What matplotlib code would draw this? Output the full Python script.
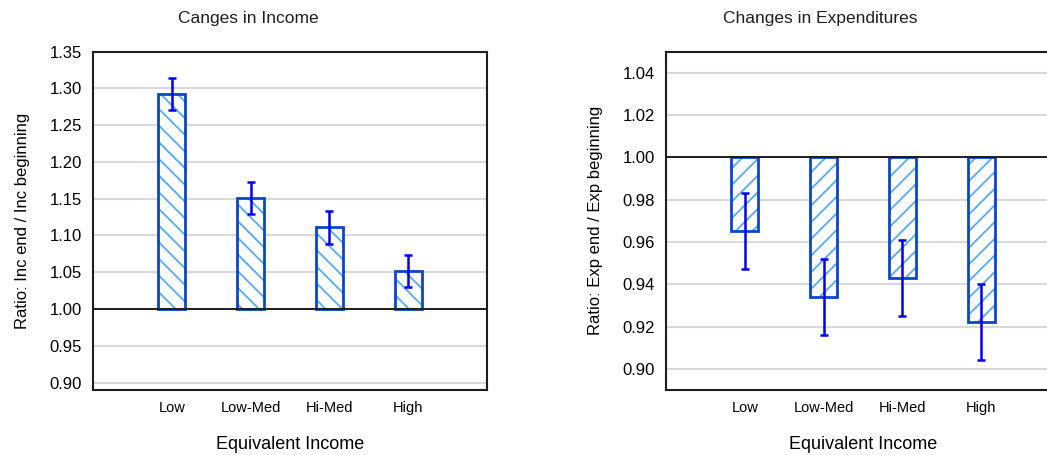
import matplotlib
matplotlib.use("Agg")
import matplotlib.pyplot as plt
import numpy as np

plt.rcParams["font.family"] = ["Liberation Sans", "DejaVu Sans"]
plt.rcParams["hatch.linewidth"] = 1.3

categories = ["Low", "Low-Med", "Hi-Med", "High"]

inc_ratio = [1.292, 1.151, 1.111, 1.052]
inc_err = [0.022, 0.022, 0.022, 0.022]

exp_ratio = [0.965, 0.934, 0.943, 0.922]
exp_err = [0.018, 0.018, 0.018, 0.018]

EDGE = "#0a46c8"
HATCH = "#55aaff"
ERR = "#0000ee"
GRID = "#d9d9d9"
INK = "#1e1e1e"


def draw_panel(ax, values, errs, hatch, ylim, yticks, ylabel):
    x = np.arange(len(categories))
    heights = [v - 1.0 for v in values]
    ax.bar(x, heights, bottom=1.0, width=0.34, color="white",
           edgecolor=HATCH, hatch=hatch, linewidth=0, zorder=2)
    ax.bar(x, heights, bottom=1.0, width=0.34, color="none",
           edgecolor=EDGE, linewidth=2.0, zorder=3)
    ax.errorbar(x, values, yerr=errs, fmt="none", ecolor=ERR,
                elinewidth=1.8, capsize=3, capthick=1.8, zorder=4)
    ax.axhline(1.0, color=INK, linewidth=1.4, zorder=3.5)
    ax.set_xlim(-1, 4)
    ax.set_ylim(*ylim)
    ax.set_yticks(yticks)
    ax.set_yticklabels([f"{t:.2f}" for t in yticks], fontsize=12)
    ax.set_xticks(x)
    ax.set_xticklabels(categories, fontsize=10.5)
    ax.tick_params(length=0, pad=8)
    ax.grid(axis="y", color=GRID, linewidth=1.5, zorder=0)
    ax.set_axisbelow(True)
    for sp in ax.spines.values():
        sp.set_linewidth(1.5)
        sp.set_color(INK)
    ax.set_ylabel(ylabel, fontsize=12, labelpad=14)
    ax.set_xlabel("Equivalent Income", fontsize=13, labelpad=15)


fig = plt.figure(figsize=(10.47, 4.55), dpi=100)
ax1 = fig.add_axes([0.0888, 0.1429, 0.3763, 0.7439])
ax2 = fig.add_axes([0.6361, 0.1429, 0.3763, 0.7439])

draw_panel(ax1, inc_ratio, inc_err, "\\\\", (0.89, 1.35),
           [0.90, 0.95, 1.00, 1.05, 1.10, 1.15, 1.20, 1.25, 1.30, 1.35],
           "Ratio: Inc end / Inc beginning")
draw_panel(ax2, exp_ratio, exp_err, "//", (0.89, 1.05),
           [0.90, 0.92, 0.94, 0.96, 0.98, 1.00, 1.02, 1.04],
           "Ratio: Exp end / Exp beginning")

fig.text(248 / 1047, 1 - 18 / 455, "Canges in Income", fontsize=12.5,
         ha="center", va="center", color=INK)
fig.text(820 / 1047, 1 - 18 / 455, "Changes in Expenditures", fontsize=12.5,
         ha="center", va="center", color=INK)

fig.savefig("out.png", dpi=100, facecolor="white")
